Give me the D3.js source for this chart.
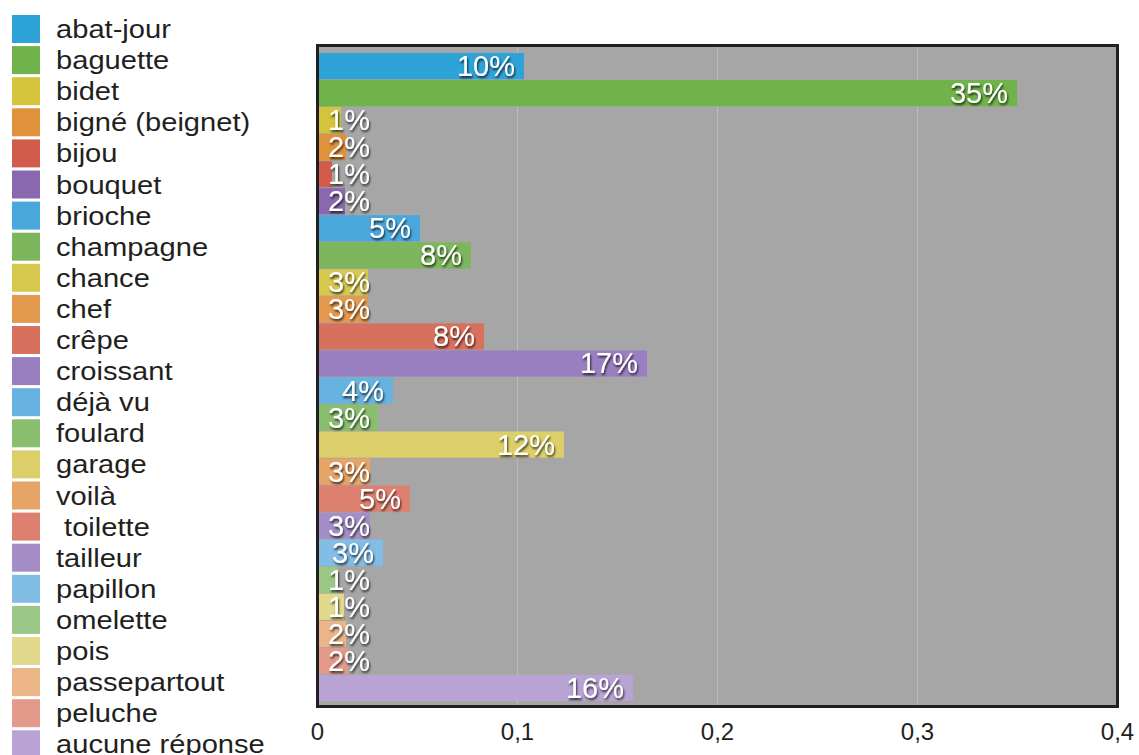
<!DOCTYPE html>
<html>
<head>
<meta charset="utf-8">
<script src="https://cdn.jsdelivr.net/npm/d3@7/dist/d3.min.js"></script>
<style>
  html, body { margin: 0; padding: 0; background: #fff; }
  svg { display: block; font-family: "Liberation Sans", Arial, Helvetica, sans-serif; }
</style>
</head>
<body>
<svg id="chart" width="1139" height="755"></svg>
<script>
const categories = ["abat-jour","baguette","bidet","bigné (beignet)","bijou","bouquet","brioche","champagne","chance","chef","crêpe","croissant","déjà vu","foulard","garage","voilà"," toilette","tailleur","papillon","omelette","pois","passepartout","peluche","aucune réponse"];
const values = [0.1035,0.35,0.012,0.0145,0.0075,0.014,0.0515,0.077,0.0255,0.0255,0.0835,0.165,0.038,0.0305,0.1235,0.0265,0.0465,0.0265,0.033,0.01,0.0135,0.0145,0.0155,0.158];
const valueLabels = ["10%","35%","1%","2%","1%","2%","5%","8%","3%","3%","8%","17%","4%","3%","12%","3%","5%","3%","3%","1%","1%","2%","2%","16%"];
const colors = ["#2ea3d7","#70b34a","#d4c43b","#e0913c","#d25c4c","#8a68b0","#4aa7dc","#7db65c","#d7c84e","#e39a4f","#d8705e","#9a7fc0","#66b2e0","#88be6e","#dccf6a","#e6a466","#dd8070","#a58ec8","#82bde6","#9cc887","#e2d98c","#ecb587","#e49a8a","#b8a3d4"];
const tickValues = [0,0.1,0.2,0.3,0.4];
const tickLabels = ["0","0,1","0,2","0,3","0,4"];

const svg = d3.select("#chart");
const x = d3.scaleLinear().domain([0,0.4]).range([317,1117]);
const y = d3.scaleBand().domain(categories).range([53,701]).paddingInner(0.03).paddingOuter(0);

const defs = svg.append("defs");
const f = defs.append("filter").attr("id","shadow").attr("x","-20%").attr("y","-30%").attr("width","140%").attr("height","170%");
f.append("feDropShadow").attr("dx",1).attr("dy",2).attr("stdDeviation",1.2).attr("flood-color","#000").attr("flood-opacity",0.75);

// plot background
svg.append("rect").attr("x",317).attr("y",45).attr("width",800).attr("height",661).attr("fill","#a6a6a6");

// gridlines
svg.append("g").selectAll("line").data(tickValues.slice(1,4)).join("line")
  .attr("x1",d=>x(d)+0.5).attr("x2",d=>x(d)+0.5).attr("y1",46).attr("y2",705)
  .attr("stroke","#bcbcbc").attr("stroke-width",1);

// bars
svg.append("g").selectAll("rect").data(categories).join("rect")
  .attr("x",x(0)).attr("y",d=>y(d)).attr("width",(d,i)=>x(values[i])-x(0))
  .attr("height",y.bandwidth()).attr("fill",(d,i)=>colors[i]);

// value labels
svg.append("g").selectAll("text").data(categories).join("text")
  .attr("x",(d,i)=>Math.max(x(values[i])-9,370))
  .attr("y",d=>y(d)+y.bandwidth()/2+10)
  .attr("text-anchor","end").attr("font-size",29).attr("fill","#fff")
  .attr("filter","url(#shadow)")
  .text((d,i)=>valueLabels[i]);

// frame
svg.append("rect").attr("x",317.5).attr("y",45.5).attr("width",800).attr("height",661)
  .attr("fill","none").attr("stroke","#231f20").attr("stroke-width",3);

// x axis
const axis = d3.axisBottom(x).tickValues(tickValues).tickSize(0).tickPadding(0)
  .tickFormat((d,i)=>tickLabels[i]);
const gx = svg.append("g").attr("transform","translate(0,722)").call(axis);
gx.select(".domain").remove();
gx.selectAll("text").attr("font-size",24).attr("fill","#231f20")
  .attr("font-family","'Liberation Sans', Arial, sans-serif").attr("dy","0.75em");

// legend
const lg = svg.append("g").selectAll("g").data(categories).join("g")
  .attr("transform",(d,i)=>`translate(12,${15+i*31.1})`);
lg.append("rect").attr("width",28).attr("height",28).attr("fill",(d,i)=>colors[i]);
lg.append("text").attr("transform","translate(44,23) scale(1.12,1)").attr("font-size",26).attr("fill","#231f20")
  .style("white-space","pre").text(d=>d);
</script>
</body>
</html>
